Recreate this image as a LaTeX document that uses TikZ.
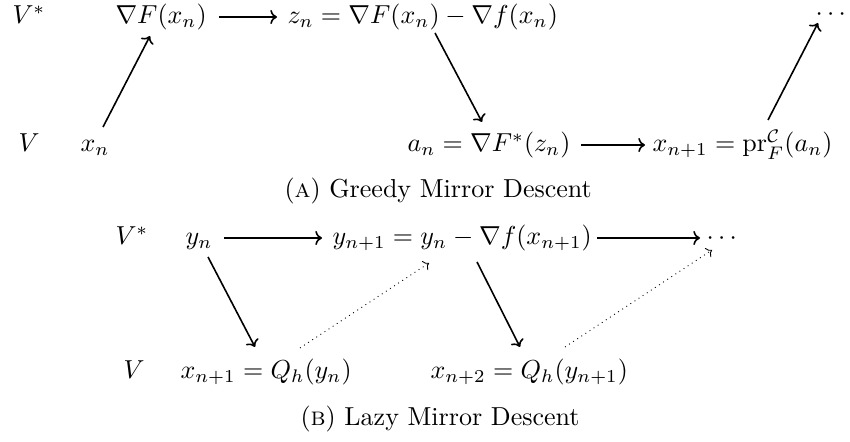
\documentclass[tikz,border=0pt]{standalone}
\usepackage{amsmath}
\usetikzlibrary{arrows.meta}
\begin{document}
\begin{tikzpicture}[x=0.5pt,y=-0.5pt,
  lbl/.style={anchor=base west,inner sep=0pt,scale=1.30},
  captext/.style={anchor=base west,inner sep=0pt,scale=1.30},
  arr/.style={line width=0.8pt,-{Computer Modern Rightarrow}},
  dotarr/.style={line width=0.45pt,dotted,-{Computer Modern Rightarrow}}]
\useasboundingbox (0,0) rectangle (850,442);
% (A)
\node[lbl] (VsA) at (12,24) {$V^*$};
\node[lbl] (gF) at (115,24) {$\nabla F(x_n)$};
\node[lbl] (zn) at (287,24) {$z_n = \nabla F(x_n) - \nabla f(x_n)$};
\node[lbl] (dA) at (815,21) {$\cdots$};
\node[lbl] (VA) at (18,152) {$V$};
\node[lbl] (xn) at (80,152) {$x_n$};
\node[lbl] (an) at (407,152) {$a_n = \nabla F^*(z_n)$};
\node[lbl] (xnA) at (652,152) {$x_{n+1} = \mathrm{pr}^{\mathcal{C}}_F(a_n)$};
\node[captext] (capA) at (284,198) {(\textsc{a}) Greedy Mirror Descent};
\draw[arr] ([shift={(12,-7)}]gF.base east) -- ([shift={(-10,-7)}]zn.base west);
\draw[arr] ([shift={(10,-7)}]an.base east) -- ([shift={(-7,-7)}]xnA.base west);
\draw[arr] ([shift={(23,-25)}]xn.base west) -- ([shift={(35,12)}]gF.base west);
\draw[arr] ([shift={(148,9)}]zn.base west) -- ([shift={(75,-30)}]an.base west);
\draw[arr] ([shift={(116,-32)}]xnA.base west) -- ([shift={(3,2)}]dA.base west);
% (B)
\node[lbl] (VsB) at (115,245) {$V^*$};
\node[lbl] (yn) at (185,245) {$y_n$};
\node[lbl] (yn1) at (332,245) {$y_{n+1} = y_n - \nabla f(x_{n+1})$};
\node[lbl] (dB) at (706,245) {$\cdots$};
\node[lbl] (VB) at (123,379) {$V$};
\node[lbl] (xnB) at (180,379) {$x_{n+1} = Q_h(y_n)$};
\node[lbl] (xnnB) at (430,379) {$x_{n+2} = Q_h(y_{n+1})$};
\node[captext] (capB) at (300,426) {(\textsc{b}) Lazy Mirror Descent};
\draw[arr] ([shift={(11,-7)}]yn.base east) -- ([shift={(-10,-7)}]yn1.base west);
\draw[arr] ([shift={(5,-7)}]yn1.base east) -- ([shift={(-6,-7)}]dB.base west);
\draw[arr] ([shift={(23,12)}]yn.base west) -- ([shift={(75,-32)}]xnB.base west);
\draw[arr] ([shift={(145,17)}]yn1.base west) -- ([shift={(90,-32)}]xnnB.base west);
\draw[dotarr] ([shift={(120,-31)}]xnB.base west) -- ([shift={(97,18)}]yn1.base west);
\draw[dotarr] ([shift={(135,-32)}]xnnB.base west) -- ([shift={(6,5)}]dB.base west);
\end{tikzpicture}
\end{document}
